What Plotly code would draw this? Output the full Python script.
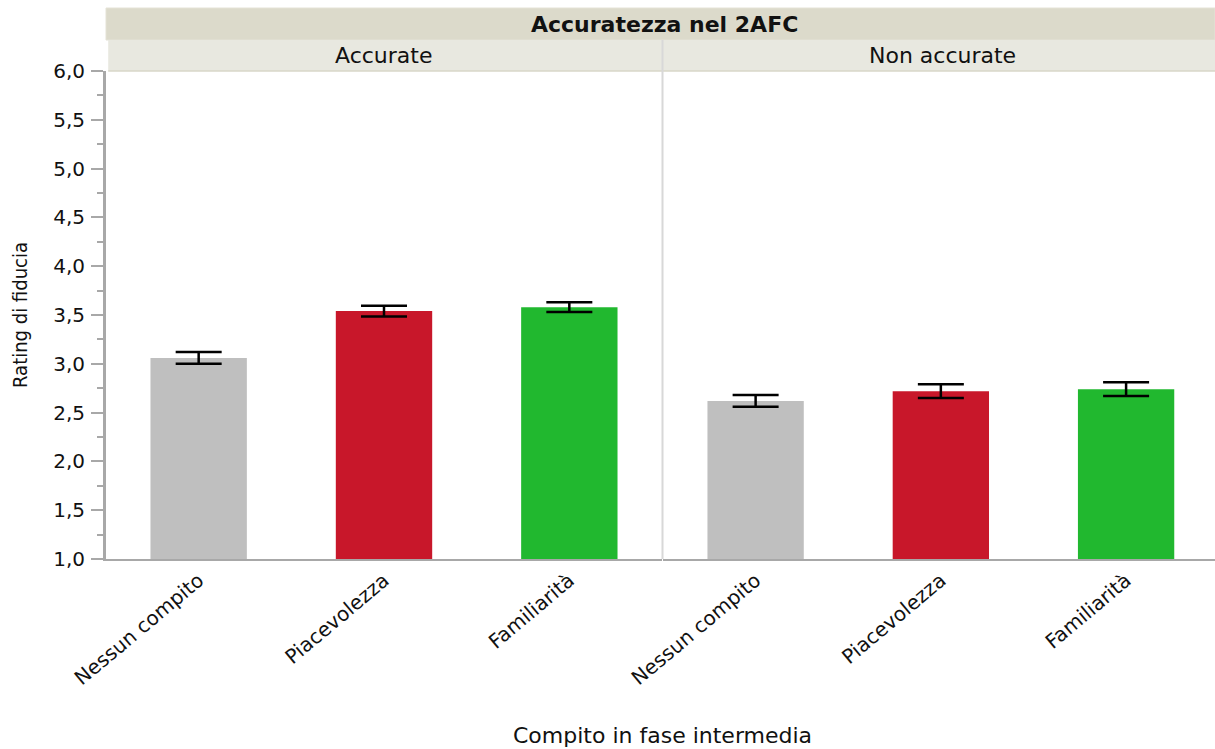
import plotly.graph_objects as go

# Data: mean confidence rating by intermediate task, split by 2AFC accuracy
categories = ["Nessun compito", "Piacevolezza", "Familiarità"]
panels = ["Accurate", "Non accurate"]
means_accurate = [3.06, 3.54, 3.58]
err_accurate = [0.06, 0.055, 0.05]
means_non_accurate = [2.62, 2.72, 2.74]
err_non_accurate = [0.06, 0.07, 0.07]
bar_colors = ["#BFBFBF", "#C8172A", "#21B82F"]
y_ticks = [1.0, 1.5, 2.0, 2.5, 3.0, 3.5, 4.0, 4.5, 5.0, 5.5, 6.0]

FONT = "DejaVu Sans, Noto Sans, sans-serif"
FONT_NARROW = "DejaVu Sans Condensed, DejaVu Sans, sans-serif"
AXIS_GREY = "#A8A8A8"
TEXT = "#111111"

W, H = 1215, 749
L, R, T, B = 106, 0, 71, 190
plot_w = W - L - R
plot_h = H - T - B

split_px = 662  # divider between the two panels
d1 = [0, (split_px - L) / plot_w]
d2 = [(split_px + 1 - L) / plot_w, 1]

fig = go.Figure()

for means, errs, xa in [(means_accurate, err_accurate, "x"),
                        (means_non_accurate, err_non_accurate, "x2")]:
    fig.add_trace(go.Bar(
        x=categories, y=means, xaxis=xa, yaxis="y",
        marker=dict(color=bar_colors, line=dict(width=0)),
        error_y=dict(type="data", array=errs, visible=True,
                     color="black", thickness=2.5, width=23),
        width=0.52, showlegend=False,
    ))

xaxis_common = dict(
    showline=True, linecolor=AXIS_GREY, linewidth=2,
    ticks="", tickangle=-40, showgrid=False, zeroline=False,
    tickfont=dict(family=FONT, size=20, color=TEXT),
    fixedrange=True,
)

fig.update_layout(
    width=W, height=H,
    margin=dict(l=L, r=R, t=T, b=B, pad=0),
    plot_bgcolor="white", paper_bgcolor="white",
    separators=",.",
    bargap=0.48,
    xaxis=dict(domain=d1, range=[-0.5, 2.5], anchor="y", **xaxis_common),
    xaxis2=dict(domain=d2, range=[-0.5, 2.48], anchor="y", **xaxis_common),
    yaxis=dict(
        range=[1, 6], tickvals=y_ticks, tickformat=".1f",
        showline=True, linecolor=AXIS_GREY, linewidth=3,
        ticks="outside", ticklen=12, tickwidth=2, tickcolor=AXIS_GREY,
        minor=dict(dtick=0.25, ticks="outside", ticklen=6, tickwidth=2,
                   tickcolor=AXIS_GREY, showgrid=False),
        showgrid=False, zeroline=False,
        tickfont=dict(family=FONT, size=20, color=TEXT),
        ticklabelstandoff=2,
        title=dict(text="Rating di fiducia", standoff=21,
                   font=dict(family=FONT_NARROW, size=20, color=TEXT)),
    ),
)

# Facet headers
inner_top = 1 + (T - 40) / plot_h
outer_top = 1 + (T - 8) / plot_h
fig.add_shape(type="rect", xref="paper", yref="paper", x0=0, x1=1,
              y0=inner_top, y1=outer_top, fillcolor="#DCDACB",
              line=dict(color="#E4E2D6", width=1), layer="below")
fig.add_shape(type="rect", xref="paper", yref="paper", x0=0.002, x1=1,
              y0=1, y1=inner_top, fillcolor="#E8E8E0",
              line=dict(width=0), layer="below")
fig.add_shape(type="line", xref="paper", yref="paper", x0=0.002, x1=1,
              y0=1, y1=1, line=dict(color="#D8D7C8", width=1.5))
# Panel divider
xdiv = (split_px + 0.5 - L) / plot_w
fig.add_shape(type="line", xref="paper", yref="paper", x0=xdiv, x1=xdiv,
              y0=0, y1=inner_top, line=dict(color="#D8D8D8", width=2))

fig.add_annotation(text="<b>Accuratezza nel 2AFC</b>", xref="paper", yref="paper",
                   x=(664 - L) / plot_w, y=(inner_top + outer_top) / 2,
                   showarrow=False, xanchor="center", yanchor="middle",
                   font=dict(family=FONT, size=22, color=TEXT))
for name, dom in zip(panels, [d1, [d2[0], (1221 - L) / plot_w]]):
    fig.add_annotation(text=name, xref="paper", yref="paper",
                       x=(dom[0] + dom[1]) / 2, y=(1 + inner_top) / 2,
                       showarrow=False, xanchor="center", yanchor="middle",
                       font=dict(family=FONT, size=22, color=TEXT))

# Shared x-axis title
fig.add_annotation(text="Compito in fase intermedia", xref="paper", yref="paper",
                   x=(662 - L) / plot_w, y=-(735 - T - plot_h) / plot_h,
                   showarrow=False, xanchor="center", yanchor="middle",
                   font=dict(family=FONT, size=22, color=TEXT))

fig.write_html("out.html")
